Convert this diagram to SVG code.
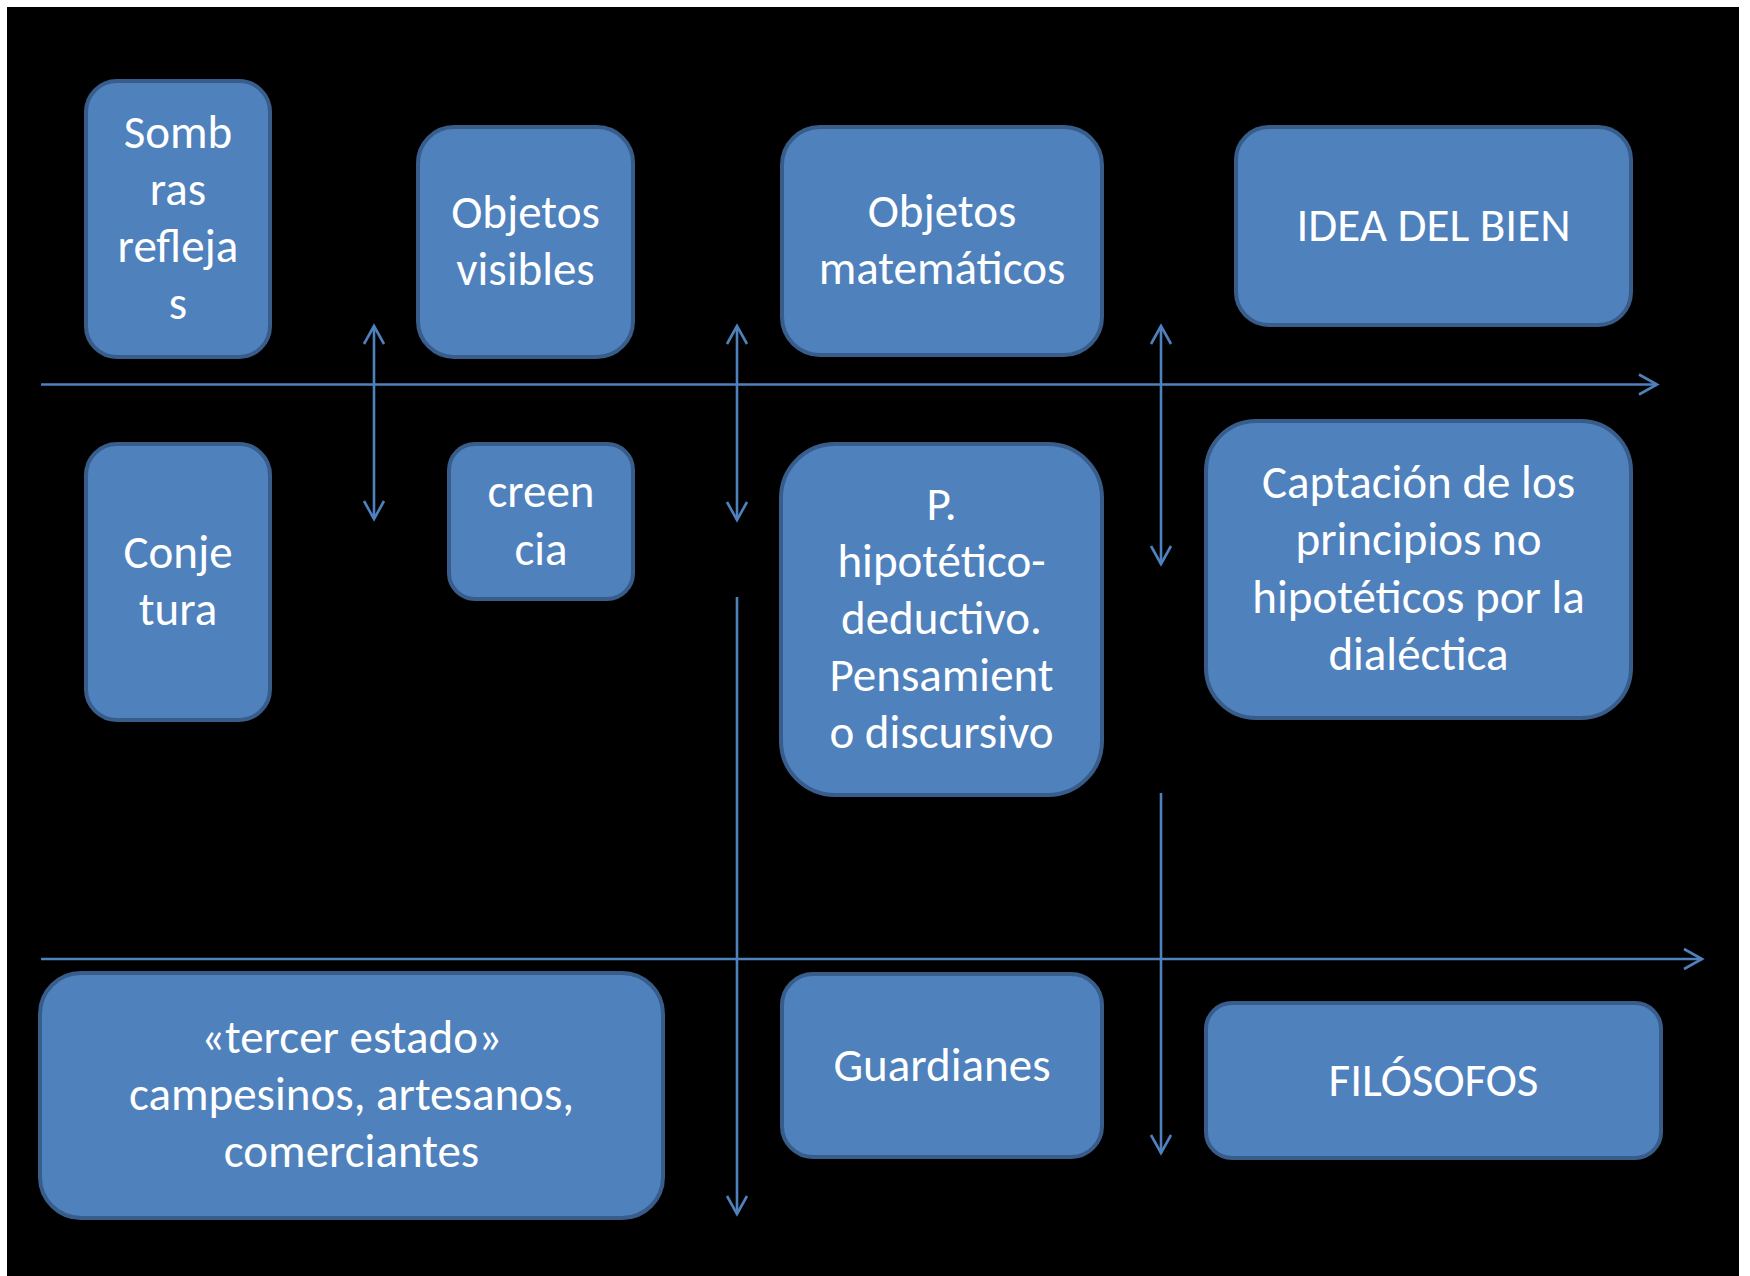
<svg xmlns="http://www.w3.org/2000/svg" width="1750" height="1276" viewBox="0 0 1750 1276">
<defs>
<style>
.box{fill:#4F81BD;stroke:#385D8A;stroke-width:4}
.t{font-family:Carlito,Calibri,Lato,"Open Sans",sans-serif;font-size:47px;fill:#FFFFFF;text-anchor:middle}
.ln{stroke:#4F81BD;stroke-width:2.6;fill:none}
</style>
<marker id="ah" markerUnits="userSpaceOnUse" viewBox="-22 -14 26 28" refX="0" refY="0" markerWidth="26" markerHeight="28" orient="auto-start-reverse">
<path d="M-18,-10 L0,0 L-18,10" fill="none" stroke="#4F81BD" stroke-width="2.6"/>
</marker>
</defs>
<rect x="0" y="0" width="1750" height="1276" fill="#FFFFFF"/>
<rect x="7" y="7" width="1732" height="1269" fill="#000000"/>
<g id="connectors">
<line class="ln" x1="41" y1="384.5" x2="1657" y2="384.5" marker-end="url(#ah)"/>
<line class="ln" x1="41" y1="959" x2="1702" y2="959" marker-end="url(#ah)"/>
<line class="ln" x1="374" y1="326" x2="374" y2="519" marker-start="url(#ah)" marker-end="url(#ah)"/>
<line class="ln" x1="737" y1="326" x2="737" y2="520" marker-start="url(#ah)" marker-end="url(#ah)"/>
<line class="ln" x1="1161" y1="326" x2="1161" y2="564" marker-start="url(#ah)" marker-end="url(#ah)"/>
<line class="ln" x1="737" y1="597" x2="737" y2="1214" marker-end="url(#ah)"/>
<line class="ln" x1="1161" y1="793" x2="1161" y2="1153" marker-end="url(#ah)"/>
</g>
<g id="sombras">
<rect class="box" x="86" y="81" width="184" height="276" rx="31"/>
<text class="t" x="178" y="148">Somb</text>
<text class="t" x="178" y="205">ras</text>
<text class="t" x="178" y="262">refleja</text>
<text class="t" x="178" y="319">s</text>
</g>
<g id="objetos-visibles">
<rect class="box" x="418" y="127" width="215" height="230" rx="36"/>
<text class="t" x="525.5" y="228">Objetos</text>
<text class="t" x="525.5" y="285">visibles</text>
</g>
<g id="objetos-matematicos">
<rect class="box" x="782" y="127" width="320" height="228" rx="38"/>
<text class="t" x="942" y="227">Objetos</text>
<text class="t" x="942" y="284">matemáticos</text>
</g>
<g id="idea-del-bien">
<rect class="box" x="1236" y="127" width="395" height="198" rx="33"/>
<text class="t" x="1433.5" y="241">IDEA DEL BIEN</text>
</g>
<g id="conjetura">
<rect class="box" x="86" y="444" width="184" height="276" rx="31"/>
<text class="t" x="178" y="568">Conje</text>
<text class="t" x="178" y="625">tura</text>
</g>
<g id="creencia">
<rect class="box" x="449" y="444" width="184" height="155" rx="26"/>
<text class="t" x="541" y="507">creen</text>
<text class="t" x="541" y="565">cia</text>
</g>
<g id="hipotetico-deductivo">
<rect class="box" x="781" y="444" width="321" height="351" rx="54"/>
<text class="t" x="941.5" y="520">P.</text>
<text class="t" x="941.5" y="577">hipotético-</text>
<text class="t" x="941.5" y="634">deductivo.</text>
<text class="t" x="941.5" y="691">Pensamient</text>
<text class="t" x="941.5" y="748">o discursivo</text>
</g>
<g id="captacion">
<rect class="box" x="1206" y="421" width="425" height="297" rx="50"/>
<text class="t" x="1418.5" y="498">Captación de los</text>
<text class="t" x="1418.5" y="555">principios no</text>
<text class="t" x="1418.5" y="613">hipotéticos por la</text>
<text class="t" x="1418.5" y="670">dialéctica</text>
</g>
<g id="tercer-estado">
<rect class="box" x="40" y="973" width="623" height="245" rx="41"/>
<text class="t" x="351.5" y="1053">«tercer estado»</text>
<text class="t" x="351.5" y="1110">campesinos, artesanos,</text>
<text class="t" x="351.5" y="1167">comerciantes</text>
</g>
<g id="guardianes">
<rect class="box" x="782" y="974" width="320" height="183" rx="31"/>
<text class="t" x="942" y="1081">Guardianes</text>
</g>
<g id="filosofos">
<rect class="box" x="1206" y="1003" width="455" height="155" rx="26"/>
<text class="t" x="1433.5" y="1096">FILÓSOFOS</text>
</g>
</svg>
